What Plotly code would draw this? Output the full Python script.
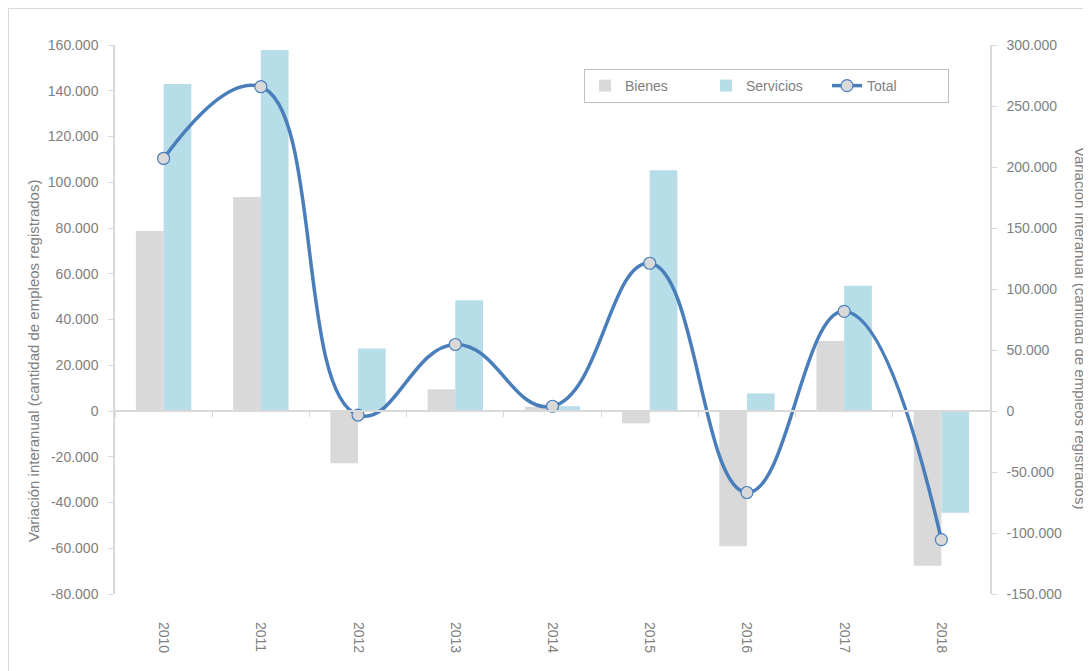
import plotly.graph_objects as go

years = ["2010", "2011", "2012", "2013", "2014", "2015", "2016", "2017", "2018"]
bienes = [78700, 93600, -22800, 9500, 1900, -5400, -59100, 30600, -67700]
servicios = [143000, 157800, 27300, 48400, 2100, 105200, 7700, 54800, -44500]
total = [207000, 265800, -3300, 54500, 3900, 121100, -66800, 81700, -105400]

left_ticks = [-80000, -60000, -40000, -20000, 0, 20000, 40000, 60000, 80000, 100000, 120000, 140000, 160000]
right_ticks = [-150000, -100000, -50000, 0, 50000, 100000, 150000, 200000, 250000, 300000]


def fmt(v):
    s = f"{abs(v):,}".replace(",", ".")
    return ("-" if v < 0 else "") + s


GRAY = "#808080"
AXIS = "#D9D9D9"
FONT = "Liberation Sans, Arial, sans-serif"

fig = go.Figure()
fig.add_trace(go.Bar(name="Bienes", x=years, y=bienes, marker=dict(color="#D9D9D9", line_width=0)))
fig.add_trace(go.Bar(name="Servicios", x=years, y=servicios, marker=dict(color="#B7DEE8", line_width=0)))
fig.add_trace(go.Scatter(
    name="Total", x=years, y=total, yaxis="y2", mode="lines+markers",
    line=dict(color="#4A7EBB", width=3.5, shape="spline", smoothing=1.3),
    marker=dict(size=12, color="#D9D9D9", line=dict(color="#4A7EBB", width=1.2)),
))
# helper trace for the zero-crossing category axis
fig.add_trace(go.Scatter(x=years, y=[None] * len(years), xaxis="x2", showlegend=False,
                         hoverinfo="skip", mode="lines"))

# page body has an 8px margin: figure coordinates = page coordinates - 8
OFF = 8
W, H = 1091 - OFF, 671 - OFF
PL, PR, PT, PB = 115, 990, 45, 594  # plot area in page pixels
L, R, T, B = PL - OFF, W - (PR - OFF), PT - OFF, H - (PB - OFF)
pw, ph = PR - PL, PB - PT


def px(xpage):
    return (xpage - PL) / pw


def py(ypage):
    return (PB - ypage) / ph


fig.update_layout(
    width=W, height=H,
    margin=dict(l=L, r=R, t=T, b=B, autoexpand=False),
    paper_bgcolor="white", plot_bgcolor="white",
    font=dict(family=FONT, size=14, color=GRAY),
    barmode="group", bargap=0.43, bargroupgap=0,
    showlegend=True,
    legend=dict(
        orientation="h", x=px(584), y=py(69), xanchor="left", yanchor="top",
        bordercolor="#BFBFBF", borderwidth=1, bgcolor="white",
        font=dict(size=14, color=GRAY), entrywidth=76, itemwidth=30,
    ),
    xaxis=dict(
        type="category", categoryorder="array", categoryarray=years, range=[-0.5, 8.5],
        showline=False, ticks="", tickangle=90, showgrid=False, zeroline=False,
        tickfont=dict(size=14, color=GRAY), ticklabelstandoff=27,
    ),
    xaxis2=dict(
        type="category", categoryorder="array", categoryarray=years, range=[-0.5, 8.5],
        overlaying="x", anchor="free", position=1 / 3, showline=True, linecolor=AXIS, linewidth=1.5,
        ticks="outside", tickson="boundaries", ticklen=5, tickcolor=AXIS,
        showticklabels=False, showgrid=False, zeroline=False,
    ),
    yaxis=dict(
        range=[-80000, 160000], tickvals=left_ticks, ticktext=[fmt(v) for v in left_ticks],
        showline=True, linecolor=AXIS, linewidth=1.5, ticks="outside", ticklen=5, tickcolor=AXIS,
        showgrid=False, zeroline=False, tickfont=dict(size=14, color=GRAY), ticklabelstandoff=7,
    ),
    yaxis2=dict(
        range=[-150000, 300000], tickvals=right_ticks, ticktext=[fmt(v) for v in right_ticks],
        overlaying="y", side="right", showline=True, linecolor=AXIS, linewidth=1.5,
        ticks="outside", ticklen=5, tickcolor=AXIS,
        showgrid=False, zeroline=False, tickfont=dict(size=14, color=GRAY), ticklabelstandoff=7,
    ),
    annotations=[
        dict(text="Variación interanual (cantidad de empleos registrados)", xref="paper", yref="paper",
             x=px(33), y=py(361), textangle=-90, showarrow=False,
             font=dict(size=15, color=GRAY), xanchor="center", yanchor="middle"),
        dict(text="Variación interanual (cantidad de empleos registrados)", xref="paper", yref="paper",
             x=px(1081), y=py(328), textangle=90, showarrow=False,
             font=dict(size=15, color=GRAY), xanchor="center", yanchor="middle"),
    ],
    shapes=[
        dict(type="rect", xref="paper", yref="paper",
             x0=px(8.5), x1=px(1110), y0=py(700), y1=py(8.5),
             line=dict(color="#D9D9D9", width=1), fillcolor="rgba(0,0,0,0)", layer="below"),
    ],
)

fig.write_html("out.html")
